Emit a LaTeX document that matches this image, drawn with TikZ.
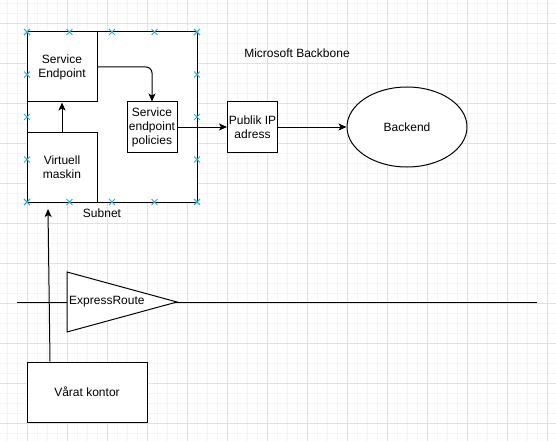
\documentclass[tikz,border=0pt]{standalone}
\usepackage{fontspec}
\setmainfont{Liberation Sans}
\usetikzlibrary{shapes.geometric,shapes.misc,arrows.meta}
\definecolor{minorgrid}{RGB}{244,244,244}
\definecolor{majorgrid}{RGB}{225,225,225}
\definecolor{handlecol}{RGB}{41,170,225}
\tikzstyle{box} = [draw, rectangle, fill=white, align=center, inner sep=0pt, line width=1pt]
\tikzstyle{handle} = [cross out, draw=handlecol, line width=0.9pt, minimum size=5pt, inner sep=0pt]
\tikzstyle{arr} = [-{Stealth[length=8pt,width=7pt,inset=2pt]}, line width=1pt]

\begin{document}
\begin{tikzpicture}[x=1pt, y=-1pt, font=\fontsize{12}{14}\selectfont]
    \useasboundingbox (0,0) rectangle (556,441);
    \fill[white] (0,0) rectangle (556,441);
    \foreach \x in {7,17,...,557} \draw[minorgrid, line width=0.8pt] (\x,0) -- (\x,441);
    \foreach \y in {3,13,...,443} \draw[minorgrid, line width=0.8pt] (0,\y) -- (556,\y);
    \foreach \x in {27,67,...,547} \draw[majorgrid, line width=0.8pt] (\x,0) -- (\x,441);
    \foreach \y in {23,63,...,423} \draw[majorgrid, line width=0.8pt] (0,\y) -- (556,\y);
    \node[box, minimum width=170pt, minimum height=170pt] (subnet) at (112,117) {};
    \node[box, minimum width=70pt, minimum height=70pt] (sep) at (62,67) {Service\\Endpoint};
    \node[box, minimum width=70pt, minimum height=70pt] (vm) at (62,167) {Virtuell\\maskin};
    \node[box, minimum width=50pt, minimum height=50pt] (policies) at (152,127) {Service\\endpoint\\policies};
    \node[box, minimum width=50pt, minimum height=50pt] (publicip) at (252.5,127) {Publik IP\\adress};
    \node[draw, ellipse, fill=white, line width=1pt, minimum width=120pt, minimum height=80pt] (backend) at (407,127) {Backend};
    \node (backbone) at (297,53) {Microsoft Backbone};
    \node (subnetlbl) at (102,213) {Subnet};
    \foreach \p in {27,69.5,112,154.5,197} {
        \node[handle] at (\p,32) {};
        \node[handle] at (\p,202) {};
        \node[handle] at (27,\p+5) {};
        \node[handle] at (197,\p+5) {};
    }
    \draw[arr] (vm.north) -- (sep.south);
    \draw[arr, rounded corners=6pt] (sep.east) -| (policies.north);
    \draw[arr] (policies.east) -- (publicip.west);
    \draw[arr] (publicip.east) -- (backend.west);
    \coordinate (wanleft) at (17,302);
    \coordinate (wanright) at (537,302);
    \draw[line width=1pt] (wanleft) -- (wanright);
    \draw[line width=1pt, fill=white] (67,272) -- (177,302) -- (67,332) -- cycle;
    \node[anchor=west, inner sep=0pt] (express) at (69,302) {ExpressRoute};
    \node[box, minimum width=120pt, minimum height=60pt] (kontor) at (87,392) {Vårat kontor};
    \coordinate (vmin) at (48,209);
    \draw[arr] ([xshift=-37pt]kontor.north) -- (vmin);
\end{tikzpicture}
\end{document}
